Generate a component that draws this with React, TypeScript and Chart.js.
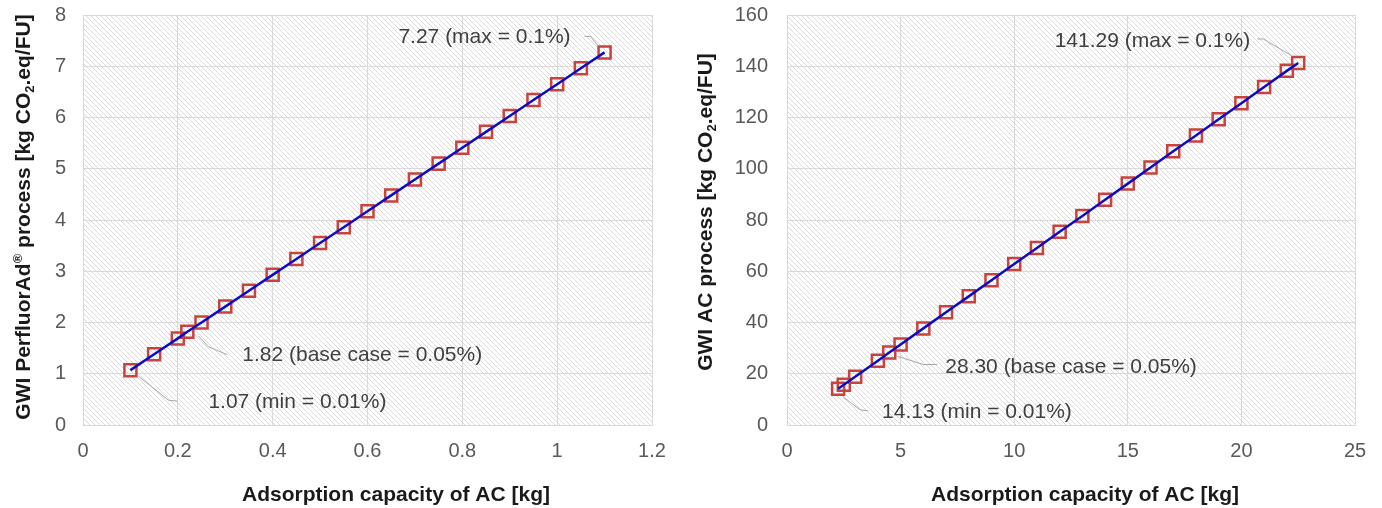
import React, { useEffect, useRef } from "react";
import { Chart, registerables } from "chart.js";

Chart.register(...registerables);

// ---------- data ----------
const leftX = [0.1, 0.15, 0.2, 0.22, 0.25, 0.3, 0.35, 0.4, 0.45, 0.5, 0.55, 0.6, 0.65, 0.7, 0.75, 0.8, 0.85, 0.9, 0.95, 1.0, 1.05, 1.1];
const leftY = [1.07, 1.38, 1.69, 1.82, 2.0, 2.31, 2.62, 2.93, 3.24, 3.55, 3.86, 4.17, 4.48, 4.79, 5.1, 5.41, 5.72, 6.03, 6.34, 6.65, 6.96, 7.27];
const leftXTicks = [0, 0.2, 0.4, 0.6, 0.8, 1, 1.2];
const leftYTicks = [0, 1, 2, 3, 4, 5, 6, 7, 8];

const rightX = [2.25, 2.5, 3, 4, 4.5, 5, 6, 7, 8, 9, 10, 11, 12, 13, 14, 15, 16, 17, 18, 19, 20, 21, 22, 22.5];
const rightY = [14.13, 15.7, 18.8, 25.1, 28.3, 31.4, 37.7, 44.0, 50.2, 56.5, 62.8, 69.1, 75.4, 81.6, 87.9, 94.2, 100.5, 106.8, 113.0, 119.3, 125.6, 131.9, 138.2, 141.29];
const rightXTicks = [0, 5, 10, 15, 20, 25];
const rightYTicks = [0, 20, 40, 60, 80, 100, 120, 140, 160];

const xTitle = "Adsorption capacity of AC [kg]";
const leftYTitle = [
  { t: "GWI PerfluorAd" },
  { t: "®", sup: true },
  { t: " process [kg CO" },
  { t: "2", sub: true },
  { t: ".eq/FU]" },
];
const rightYTitle = [
  { t: "GWI AC process [kg CO" },
  { t: "2", sub: true },
  { t: ".eq/FU]" },
];

const leftNotes = [
  { idx: 21, text: "7.27 (max = 0.1%)" },
  { idx: 3, text: "1.82 (base case = 0.05%)" },
  { idx: 0, text: "1.07 (min = 0.01%)" },
];
const rightNotes = [
  { idx: 23, text: "141.29 (max = 0.1%)" },
  { idx: 4, text: "28.30 (base case = 0.05%)" },
  { idx: 0, text: "14.13 (min = 0.01%)" },
];

// ---------- layout / style ----------
const FONT = '"Liberation Sans", Arial, Helvetica, sans-serif';
const W = 691;
const H = 508;

const leftLayout = {
  yAxisWidth: 83,
  padRight: 39,
  padTop: 15,
  xAxisHeight: 83,
  yTickPad: 17,
  yTitleX: 30,
  yTitleCY: 217,
  xTitleCX: 396,
  xTitleY: 501,
  notes: [
    { align: "right", tx: -34, ty: -15, leader: [[-20, -16], [-14, -16], [-6, -6]] },
    { align: "left", tx: 55, ty: 23, leader: [[11, 4], [21, 15], [40, 23]] },
    { align: "left", tx: 78, ty: 32, leader: [[8, 6], [38, 30], [47, 31]] },
  ],
};
const rightLayout = {
  yAxisWidth: 96,
  padRight: 27,
  padTop: 15,
  xAxisHeight: 83,
  yTickPad: 19,
  yTitleX: 21,
  yTitleCY: 212,
  xTitleCX: 394,
  xTitleY: 501,
  notes: [
    { align: "right", tx: -48, ty: -22, leader: [[-41, -24], [-35, -24], [-6, -7]] },
    { align: "left", tx: 56, ty: 15, leader: [[9, 4], [34, 12], [48, 12]] },
    { align: "left", tx: 44, ty: 23, leader: [[5, 8], [22, 21], [30, 22]] },
  ],
};

type Seg = { t: string; sub?: boolean; sup?: boolean };

function drawRich(ctx: CanvasRenderingContext2D, segs: Seg[], size: number, x: number, y: number, rotate: boolean) {
  const base = `bold ${size}px ${FONT}`;
  const small = `bold ${Math.round(size * 0.62)}px ${FONT}`;
  const widths = segs.map((s) => {
    ctx.font = s.sub || s.sup ? small : base;
    return ctx.measureText(s.t).width;
  });
  const total = widths.reduce((a, b) => a + b, 0);
  ctx.save();
  ctx.translate(x, y);
  if (rotate) ctx.rotate(-Math.PI / 2);
  ctx.fillStyle = "#1a1a1a";
  ctx.textAlign = "left";
  ctx.textBaseline = "alphabetic";
  let cx = -total / 2;
  segs.forEach((s, i) => {
    ctx.font = s.sub || s.sup ? small : base;
    const dy = s.sub ? size * 0.2 : s.sup ? -size * 0.4 : 0;
    ctx.fillText(s.t, cx, dy);
    cx += widths[i];
  });
  ctx.restore();
}

function makePattern(ctx: CanvasRenderingContext2D) {
  const s = 5;
  const c = document.createElement("canvas");
  c.width = s;
  c.height = s;
  const p = c.getContext("2d")!;
  p.fillStyle = "#ffffff";
  p.fillRect(0, 0, s, s);
  p.strokeStyle = "#d9d9d9";
  p.lineWidth = 1;
  p.beginPath();
  p.moveTo(-1, -1);
  p.lineTo(s + 1, s + 1);
  p.moveTo(-1, s - 1);
  p.lineTo(1, s + 1);
  p.moveTo(s - 1, -1);
  p.lineTo(s + 1, 1);
  p.stroke();
  return ctx.createPattern(c, "repeat");
}

function buildChart(
  canvas: HTMLCanvasElement,
  xs: number[],
  ys: number[],
  xTicks: number[],
  yTicks: number[],
  yTitle: Seg[],
  notes: { idx: number; text: string }[],
  L: typeof leftLayout
) {
  const pts = xs.map((x, i) => ({ x, y: ys[i] }));
  const plugin = {
    id: "decor",
    beforeDraw(chart: any) {
      const { ctx, chartArea: a } = chart;
      ctx.save();
      ctx.fillStyle = "#ffffff";
      ctx.fillRect(0, 0, chart.width, chart.height);
      const pat = makePattern(ctx);
      if (pat) {
        ctx.fillStyle = pat;
        ctx.fillRect(a.left, a.top, a.right - a.left, a.bottom - a.top);
      }
      ctx.restore();
    },
    afterDraw(chart: any) {
      const { ctx } = chart;
      const xs_ = chart.scales.x;
      const ys_ = chart.scales.y;
      notes.forEach((n, i) => {
        const cfg = L.notes[i];
        const px = xs_.getPixelForValue(xs[n.idx]);
        const py = ys_.getPixelForValue(ys[n.idx]);
        ctx.save();
        ctx.strokeStyle = "#a6a6a6";
        ctx.lineWidth = 1;
        ctx.beginPath();
        cfg.leader.forEach(([dx, dy]: number[], k: number) => {
          if (k === 0) ctx.moveTo(px + dx, py + dy);
          else ctx.lineTo(px + dx, py + dy);
        });
        ctx.stroke();
        ctx.fillStyle = "#404040";
        ctx.font = `21px ${FONT}`;
        ctx.textAlign = cfg.align as CanvasTextAlign;
        ctx.textBaseline = "middle";
        ctx.fillText(n.text, px + cfg.tx, py + cfg.ty);
        ctx.restore();
      });
      drawRich(ctx, [{ t: xTitle }], 21, L.xTitleCX, L.xTitleY, false);
      drawRich(ctx, yTitle, 21, L.yTitleX, L.yTitleCY, true);
    },
  };

  return new Chart(canvas, {
    type: "scatter",
    data: {
      datasets: [
        {
          data: pts,
          showLine: true,
          borderColor: "#0c0cc4",
          borderWidth: 2.5,
          pointRadius: 0,
          pointHoverRadius: 0,
          order: 1,
        },
        {
          data: pts,
          showLine: false,
          pointStyle: "rect",
          pointRadius: 8.5,
          pointBorderWidth: 2.5,
          pointBorderColor: "#c8433e",
          pointBackgroundColor: "rgba(0,0,0,0)",
          order: 2,
        } as any,
      ],
    },
    plugins: [plugin],
    options: {
      responsive: false,
      animation: false,
      events: [],
      layout: { padding: { left: 0, right: L.padRight, top: L.padTop, bottom: 0 } },
      plugins: { legend: { display: false }, tooltip: { enabled: false } },
      scales: {
        x: {
          type: "linear",
          min: xTicks[0],
          max: xTicks[xTicks.length - 1],
          afterBuildTicks: (s: any) => {
            s.ticks = xTicks.map((v) => ({ value: v }));
          },
          afterFit: (s: any) => {
            s.height = L.xAxisHeight;
            s.paddingLeft = 0;
            s.paddingRight = 0;
          },
          ticks: {
            color: "#595959",
            font: { family: FONT, size: 20 },
            padding: 14,
            maxRotation: 0,
            autoSkip: false,
            callback: (v: any) => String(v),
          },
          grid: { color: "#d9d9d9", lineWidth: 1, drawTicks: false },
          border: { display: true, color: "#d9d9d9" },
        },
        y: {
          type: "linear",
          min: yTicks[0],
          max: yTicks[yTicks.length - 1],
          afterBuildTicks: (s: any) => {
            s.ticks = yTicks.map((v) => ({ value: v }));
          },
          afterFit: (s: any) => {
            s.width = L.yAxisWidth;
            s.paddingTop = 0;
            s.paddingBottom = 0;
          },
          ticks: {
            color: "#595959",
            font: { family: FONT, size: 20 },
            padding: L.yTickPad,
            autoSkip: false,
            callback: (v: any) => String(v),
          },
          grid: { color: "#d9d9d9", lineWidth: 1, drawTicks: false },
          border: { display: true, color: "#d9d9d9" },
        },
      },
    } as any,
  });
}

export default function App() {
  const leftRef = useRef<HTMLCanvasElement>(null);
  const rightRef = useRef<HTMLCanvasElement>(null);

  useEffect(() => {
    const c1 = buildChart(leftRef.current!, leftX, leftY, leftXTicks, leftYTicks, leftYTitle, leftNotes, leftLayout);
    const c2 = buildChart(rightRef.current!, rightX, rightY, rightXTicks, rightYTicks, rightYTitle, rightNotes, rightLayout);
    return () => {
      c1.destroy();
      c2.destroy();
    };
  }, []);

  return (
    <div style={{ position: "fixed", left: 0, top: 0, width: 1382, height: H, background: "#fff" }}>
      <canvas ref={leftRef} width={W} height={H} style={{ position: "absolute", left: 0, top: 0, width: W, height: H }} />
      <canvas ref={rightRef} width={W} height={H} style={{ position: "absolute", left: W, top: 0, width: W, height: H }} />
    </div>
  );
}
